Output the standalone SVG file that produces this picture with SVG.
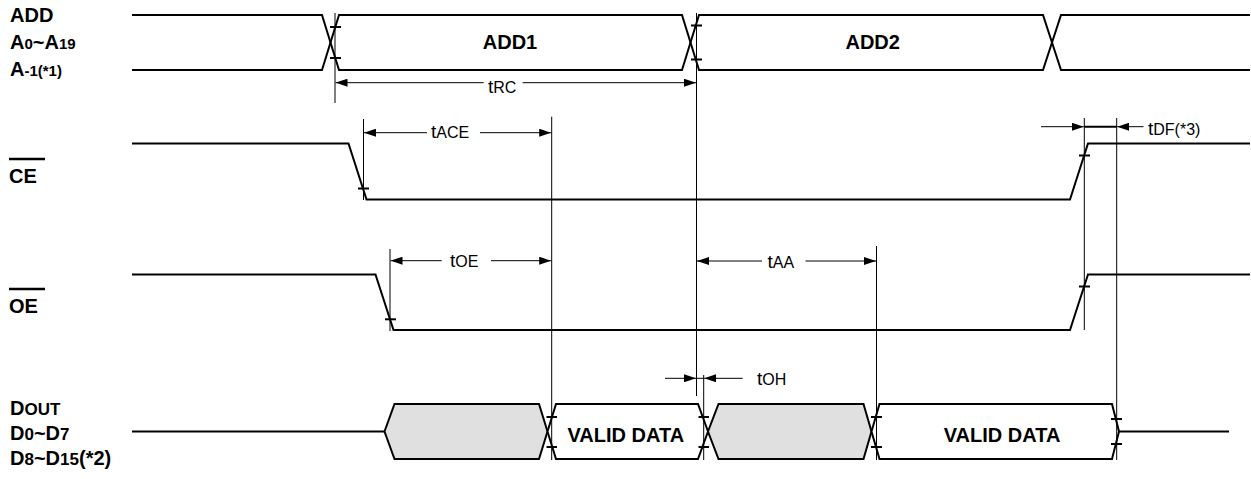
<svg xmlns="http://www.w3.org/2000/svg" width="1251" height="479" viewBox="0 0 1251 479">
<style>
.sig{fill:none;stroke:#000;stroke-width:2;stroke-linejoin:miter}
.tick{stroke:#000;stroke-width:2}
.guide{stroke:#000;stroke-width:1}
.arr{stroke:#000;stroke-width:1;fill:none;marker-end:url(#ah)}
.shaft{stroke:#000;stroke-width:1}
.lbl{font-family:"Liberation Sans",Arial,sans-serif;font-weight:bold;font-size:20px;fill:#000}
.sub{font-size:15px}
.dsub{font-size:17px}
.tm{font-family:"Liberation Sans",Arial,sans-serif;font-size:19px;fill:#000}
.tsub{font-size:16px}
.gray{fill:#e0e0e0;stroke:#000;stroke-width:2}
.white{fill:#fff;stroke:#000;stroke-width:2}
.ctr{text-anchor:middle}
</style>
<defs>
<marker id="ah" markerUnits="userSpaceOnUse" markerWidth="12" markerHeight="8" viewBox="0 0 12 8" refX="12" refY="4" orient="auto">
<path d="M0,0 L12,4 L0,8 z" fill="#000"/>
</marker>
</defs>
<rect width="1251" height="479" fill="#fff"/>

<g id="labels">
<text class="lbl" x="10" y="21.7">ADD</text>
<text class="lbl" x="10" y="49.3">A<tspan class="sub">0</tspan>~A<tspan class="sub">19</tspan></text>
<text class="lbl" x="10" y="75.5">A<tspan class="sub">-1(*1)</tspan></text>
<line x1="9" y1="159" x2="45" y2="159" stroke="#000" stroke-width="2.5"/>
<text class="lbl" x="9" y="183" font-size="23">CE</text>
<line x1="9" y1="289" x2="45" y2="289" stroke="#000" stroke-width="2.5"/>
<text class="lbl" x="9" y="313" font-size="23">OE</text>
<text class="lbl" x="10" y="415" font-size="21">D<tspan class="dsub">OUT</tspan></text>
<text class="lbl" x="10" y="440" font-size="21">D<tspan class="dsub">0</tspan>~D<tspan class="dsub">7</tspan></text>
<text class="lbl" x="10" y="465" font-size="21">D<tspan class="dsub">8</tspan>~D<tspan class="dsub">15</tspan><tspan font-size="20">(*2)</tspan></text>
</g>

<g id="sig-add">
<polyline class="sig" points="132,15 322,15 339,70 682,70 699,15 1043,15 1061,70 1250,70"/>
<polyline class="sig" points="132,70 322,70 339,15 682,15 699,70 1043,70 1061,15 1250,15"/>
<text class="lbl ctr" x="510" y="49.3">ADD1</text>
<text class="lbl ctr" x="872.7" y="49.3">ADD2</text>
<line class="tick" x1="330" y1="27" x2="341" y2="27"/>
<line class="tick" x1="330" y1="58" x2="341" y2="58"/>
<line class="tick" x1="691" y1="25.5" x2="702" y2="25.5"/>
<line class="tick" x1="691" y1="59.5" x2="702" y2="59.5"/>
</g>

<g id="sig-ce">
<polyline class="sig" points="132,143.5 348.5,143.5 366.5,199.5 1070,199.5 1088,143.5 1250,143.5"/>
<line class="tick" x1="358" y1="188.5" x2="369" y2="188.5"/>
<line class="tick" x1="1079" y1="155.5" x2="1090" y2="155.5"/>
</g>

<g id="sig-oe">
<polyline class="sig" points="132,274.5 375.5,274.5 393.5,330 1070,330 1088,274.5 1250,274.5"/>
<line class="tick" x1="385" y1="319.3" x2="396" y2="319.3"/>
<line class="tick" x1="1079" y1="286.5" x2="1090" y2="286.5"/>
</g>

<g id="sig-dout">
<line class="sig" x1="132" y1="431.5" x2="384.5" y2="431.5"/>
<polygon class="gray" points="384.5,431.5 394.5,404 539,404 547.5,431.5 539,459 394.5,459"/>
<polygon class="white" points="547.5,431.5 556,404 698,404 708,431.5 698,459 556,459"/>
<polygon class="gray" points="708,431.5 718.5,404 863.5,404 871.5,431.5 863.5,459 718.5,459"/>
<polygon class="white" points="871.5,431.5 879.5,404 1112,404 1119,431.5 1112,459 879.5,459"/>
<line class="sig" x1="1119" y1="431.5" x2="1229" y2="431.5"/>
<text class="lbl ctr" x="625.8" y="441.5" font-size="22">VALID DATA</text>
<text class="lbl ctr" x="1002" y="441.5" font-size="22">VALID DATA</text>
<line class="tick" x1="546.5" y1="417" x2="557" y2="417"/>
<line class="tick" x1="546.5" y1="447" x2="557" y2="447"/>
<line class="tick" x1="698.5" y1="417" x2="709" y2="417"/>
<line class="tick" x1="698.5" y1="447" x2="709" y2="447"/>
<line class="tick" x1="871" y1="417" x2="882" y2="417"/>
<line class="tick" x1="871" y1="447" x2="882" y2="447"/>
<line class="tick" x1="1111" y1="419" x2="1122" y2="419"/>
<line class="tick" x1="1111" y1="444" x2="1122" y2="444"/>
</g>

<g id="connectors">
<line class="guide" x1="335" y1="13" x2="335" y2="103"/>
<line class="guide" x1="696.5" y1="13" x2="696.5" y2="396"/>
<line class="guide" x1="363.5" y1="119" x2="363.5" y2="200"/>
<line class="guide" x1="551.7" y1="116.7" x2="551.7" y2="460"/>
<line class="guide" x1="390" y1="249" x2="390" y2="331"/>
<line class="guide" x1="876.5" y1="246" x2="876.5" y2="460"/>
<line class="guide" x1="1084.3" y1="118" x2="1084.3" y2="330"/>
<line class="guide" x1="1116.7" y1="118" x2="1116.7" y2="460"/>
<line class="guide" x1="703.7" y1="375" x2="703.7" y2="460"/>

<line class="arr" x1="483.7" y1="82.7" x2="335.5" y2="82.7"/>
<line class="arr" x1="522.7" y1="82.7" x2="696" y2="82.7"/>
<text class="tm" x="488" y="93">t<tspan class="tsub">RC</tspan></text>

<line class="arr" x1="427" y1="132.7" x2="364" y2="132.7"/>
<line class="arr" x1="480" y1="132.7" x2="551.2" y2="132.7"/>
<text class="tm" x="431" y="138.3">t<tspan class="tsub">ACE</tspan></text>

<line class="arr" x1="441.7" y1="260.7" x2="390.5" y2="260.7"/>
<line class="arr" x1="491" y1="260.7" x2="551.2" y2="260.7"/>
<text class="tm" x="450" y="266.7">t<tspan class="tsub">OE</tspan></text>

<line class="arr" x1="762" y1="261" x2="697" y2="261"/>
<line class="arr" x1="805.5" y1="261" x2="876" y2="261"/>
<text class="tm" x="767.5" y="268">t<tspan class="tsub">AA</tspan></text>

<line class="arr" x1="1041" y1="126.7" x2="1083.8" y2="126.7"/>
<line x1="1084.3" y1="126.7" x2="1116.7" y2="126.7" stroke="#000" stroke-width="2"/>
<line class="arr" x1="1143.5" y1="126.7" x2="1117.2" y2="126.7"/>
<text class="tm" x="1148" y="135">t<tspan class="tsub">DF(*3)</tspan></text>

<line class="arr" x1="665" y1="378.3" x2="696" y2="378.3"/>
<line class="shaft" x1="696" y1="378.3" x2="704" y2="378.3"/>
<line class="arr" x1="742.7" y1="378.3" x2="704.2" y2="378.3"/>
<text class="tm" x="757" y="385">t<tspan class="tsub">OH</tspan></text>
</g>
</svg>
